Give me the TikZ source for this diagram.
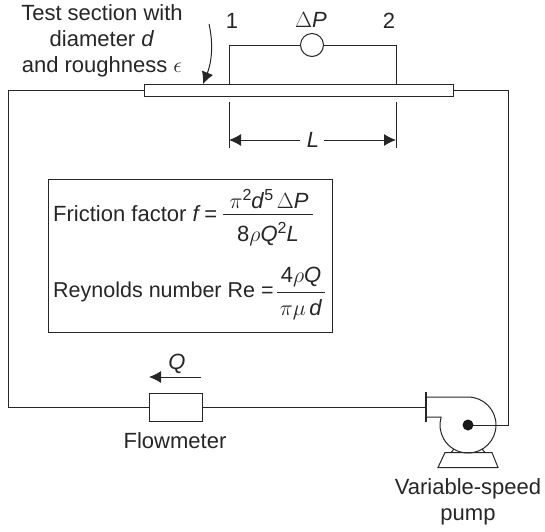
\documentclass[tikz,border=0pt]{standalone}
\usepackage{fix-cm}
\usepackage{fontspec}
\setmainfont{Liberation Sans}
\usetikzlibrary{arrows.meta}
\tikzset{
  ln/.style={draw=black!85,line width=1pt},
  lbl/.style={inner sep=0pt,font=\fontsize{22}{26}\selectfont,text=black!85},
  tip/.style={-{Latex[length=12pt,width=12pt]}}
}
\newcommand{\sps}[1]{\raisebox{0.4em}{\fontsize{16}{16}\selectfont #1}}
\begin{document}
\begin{tikzpicture}[x=1pt,y=-1pt]
\useasboundingbox (0,0) rectangle (545,531);
% test section
\node[ln,rectangle,minimum width=309pt,minimum height=12pt,inner sep=0pt,anchor=north west] (tube) at (144,84) {};
\coordinate (p1) at (229,84);
\coordinate (p2) at (396,84);
\coordinate (pL) at (8,90);
\coordinate (pR) at (508,90);
\node[ln,circle,minimum size=23pt,inner sep=0pt] (dp) at (312,45) {};
\draw[ln] (p1) |- (dp.west);
\draw[ln] (p2) |- (dp.east);
\node[lbl] (one) at (232,21) {1};
\node[lbl] (two) at (389,21) {2};
\node[lbl] (dpl) at (311,20) {$\Delta$\textit{P}};
% label
\node[lbl,align=center] (ts) at (102,41) {Test section with\\diameter \textit{d}\\and roughness $\epsilon$};
\coordinate (cs) at (209,24);
\draw[ln,tip] (cs) .. controls (214,46) and (211,64) .. (203,84);
% dimension
\coordinate (d1a) at (229,102); \coordinate (d1b) at (229,148);
\coordinate (d2a) at (396,102); \coordinate (d2b) at (396,148);
\draw[ln] (d1a) -- (d1b);
\draw[ln] (d2a) -- (d2b);
\node[lbl] (L) at (313,140) {\textit{L}};
\draw[ln,tip] (300,140) -- (229,140);
\draw[ln,tip] (324,140) -- (396,140);
% box
\node[ln,rectangle,minimum width=284pt,minimum height=153pt,inner sep=0pt,anchor=north west] (box) at (48,179) {};
\node[lbl,anchor=west] (f) at (53,214) {Friction factor \textit{f}\,=};
\node[lbl,anchor=west,font=\fontsize{21.5}{26}\selectfont] (re) at (53,292) {Reynolds number Re =};
\node[lbl] (fnum) at (269,199) {$\pi$\sps{2}\textit{d}\sps{5}\,$\Delta$\textit{P}};
\node[lbl] (fden) at (268,234) {8$\rho$\textit{Q}\sps{2}\textit{L}};
\draw[ln] (223,214) -- (313,214);
\node[lbl] (rnum) at (301,277) {4$\rho$\textit{Q}};
\node[lbl] (rden) at (301,310) {$\pi\mu$\,\textit{d}};
\draw[ln] (277,292) -- (325,292);
% flowmeter
\node[ln,rectangle,minimum width=53pt,minimum height=28pt,inner sep=0pt] (fm) at (175.5,407) {};
\node[lbl] (fml) at (175,441) {Flowmeter};
\node[lbl] (Q) at (177,364) {\textit{Q}};
\coordinate (qa) at (201,377); \coordinate (qb) at (149,377);
\draw[ln,tip] (qa) -- (qb);
% pump
\coordinate (pc) at (468,425);
\coordinate (fl1) at (426,392); \coordinate (fl2) at (426,422);
\coordinate (fli) at (426,407);
\draw[ln,line width=1.4pt] (fl1) -- (fl2);
\draw[ln] (426,397) -- (468,397) arc[start angle=-90,end angle=196.5,radius=28] -- (441,417) -- (426,417);
\fill[black!90] (pc) circle[radius=5.5];
\draw[ln] (pc) -- (pR |- pc) -- (pR) -- (tube.east |- pR);
\draw[ln] (tube.west |- pL) -- (pL) |- (fm.west);
\draw[ln] (fm.east) -- (fli);
\draw[ln] (445,452.5) -- (492,452.5) -- (498,467.5) -- (438,467.5) -- cycle;
\draw[ln] (451,452.5) -- (454,449);
\draw[ln] (485,452.5) -- (482,449);
\node[lbl,align=center] (pl) at (468,502) {Variable-speed\\pump};
\end{tikzpicture}
\end{document}
